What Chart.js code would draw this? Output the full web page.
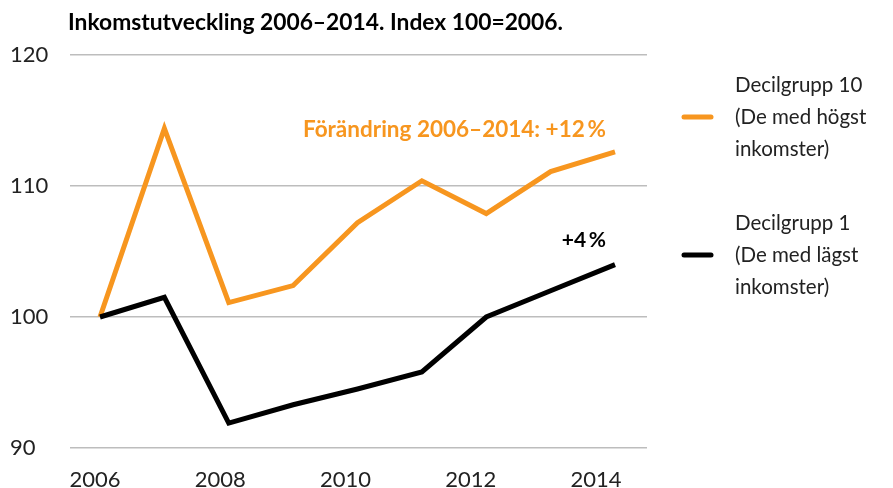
<!DOCTYPE html>
<html>
<head>
<meta charset="utf-8">
<script src="https://cdn.jsdelivr.net/npm/chart.js@4.4.1/dist/chart.umd.min.js"></script>
<style>
  html, body { margin: 0; padding: 0; background: #fff; }
  #wrap { width: 893px; height: 488px; }
</style>
</head>
<body>
<div id="wrap"><canvas id="incomeChart" width="893" height="488"></canvas></div>
<script>
// data
const years = [2006, 2007, 2008, 2009, 2010, 2011, 2012, 2013, 2014];
const decile10 = [100, 114.4, 101.1, 102.4, 107.2, 110.4, 107.9, 111.1, 112.6];
const decile1 = [100, 101.5, 91.9, 93.3, 94.5, 95.8, 100, 102.0, 104.0];
const xTickLabels = [2006, 2008, 2010, 2012, 2014];
const yTicks = [90, 100, 110, 120];

const titleText = 'Inkomstutveckling 2006–2014. Index 100=2006.';
const legendItems = [
  { color: '#f7961f', lines: ['Decilgrupp 10', '(De med högst', 'inkomster)'] },
  { color: '#000000', lines: ['Decilgrupp 1', '(De med lägst', 'inkomster)'] }
];
const noteTop = 'Förändring 2006–2014: +12\u2009%';
const noteLow = '+4\u2009%';

const orange = '#f7961f';
const textCol = '#222222';

const textPlugin = {
  id: 'texts',
  afterDraw(chart) {
    const c = chart.ctx;
    c.save();
    c.textBaseline = 'middle';
    c.textAlign = 'left';

    c.fillStyle = '#000';
    c.font = 'bold 22.8px Lato';
    c.fillText(titleText, 68, 23);

    c.font = 'bold 22.5px Lato';
    c.fillStyle = orange;
    c.textAlign = 'right';
    c.fillText(noteTop, 606, 130);
    c.fillStyle = '#000';
    c.font = 'bold 21px Lato';
    c.fillText(noteLow, 606, 240);

    c.textAlign = 'left';
    c.font = '20.5px Lato';
    legendItems.forEach((item, i) => {
      const y0 = 85 + i * 138;
      c.strokeStyle = item.color;
      c.lineWidth = 5;
      c.lineCap = 'round';
      c.beginPath();
      c.moveTo(684, y0 + 32);
      c.lineTo(711, y0 + 32);
      c.stroke();
      c.fillStyle = textCol;
      item.lines.forEach((t, j) => c.fillText(t, 735, y0 + j * 32));
    });
    c.restore();
  }
};

const ctx = document.getElementById('incomeChart').getContext('2d');
const chart = new Chart(ctx, {
  type: 'line',
  data: {
    datasets: [
      {
        label: 'Decilgrupp 10',
        data: years.map((y, i) => ({ x: y, y: decile10[i] })),
        borderColor: orange,
        borderWidth: 5,
        borderJoinStyle: 'miter',
        pointRadius: 0,
        tension: 0,
        order: 2
      },
      {
        label: 'Decilgrupp 1',
        data: years.map((y, i) => ({ x: y, y: decile1[i] })),
        borderColor: '#000',
        borderWidth: 5,
        borderJoinStyle: 'miter',
        pointRadius: 0,
        tension: 0,
        order: 1
      }
    ]
  },
  options: {
    responsive: false,
    animation: false,
    layout: { padding: { left: 10, right: 246, top: 55, bottom: 0 } },
    plugins: { legend: { display: false }, tooltip: { enabled: false } },
    scales: {
      x: {
        type: 'linear',
        display: false,
        min: 2005.534,
        max: 2014.497
      },
      x2: {
        type: 'linear',
        position: 'bottom',
        min: 2005.601,
        max: 2014.815,
        grid: { display: false, drawTicks: false },
        border: { display: false },
        afterBuildTicks: axis => { axis.ticks = xTickLabels.map(v => ({ value: v })); },
        afterFit: axis => { axis.height = 40; },
        ticks: {
          padding: 19,
          maxRotation: 0,
          autoSkip: false,
          color: textCol,
          font: { family: 'Lato', size: 22 },
          callback: v => String(v)
        }
      },
      y: {
        min: 90,
        max: 120,
        afterBuildTicks: axis => { axis.ticks = yTicks.map(v => ({ value: v })); },
        afterFit: axis => { axis.width = 60; },
        grid: { color: '#bdbdbd', lineWidth: 1.5, drawTicks: false },
        border: { display: false },
        ticks: {
          crossAlign: 'far',
          padding: 0,
          color: textCol,
          font: { family: 'Lato', size: 22 }
        }
      }
    }
  },
  plugins: [textPlugin]
});
</script>
</body>
</html>
